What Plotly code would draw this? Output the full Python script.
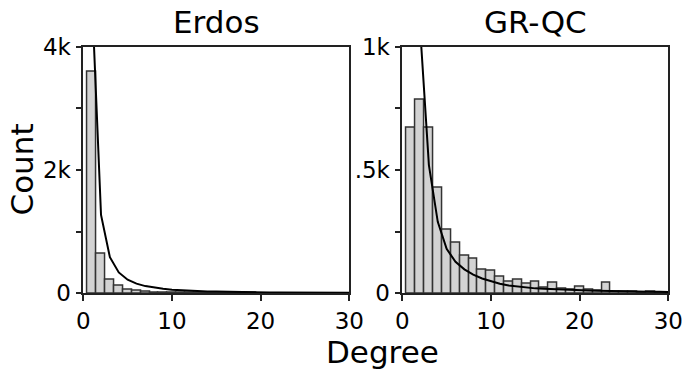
import plotly.graph_objects as go

# ---- data ----
degrees = list(range(1, 31))
erdos_counts = [3590, 635, 227, 122, 65, 38, 25, 16, 12, 9, 7, 6, 5, 4, 3,
                3, 2, 2, 2, 1, 1, 1, 1, 1, 1, 0, 0, 0, 0, 0]
erdos_fit = [4720, 1270, 585, 339, 221, 157, 117, 91, 73, 59, 50, 42, 36, 31, 28,
             24, 22, 20, 18, 16, 14.5, 13, 12, 11, 10, 9.5, 8.8, 8.2, 7.8, 7.4]
grqc_counts = [673, 786, 673, 428, 257, 204, 151, 139, 97, 92, 66, 47, 56, 37, 47,
               24, 42, 18, 14, 27, 14, 11, 42, 7, 5, 5, 4, 8, 3, 3]
grqc_fit = [4300, 1080, 520, 290, 180, 128, 97, 76, 60, 48, 39, 32, 27, 23, 20,
            18, 16, 14.5, 13, 12, 11, 10, 9, 8.5, 8, 7.4, 7, 6.5, 6, 5.7]

titles = ["Erdos", "GR-QC"]
x_ticks = [0, 10, 20, 30]
erdos_yticks = [0, 1000, 2000, 3000, 4000]
erdos_ytext = ["0", "", "2k", "", "4k"]
grqc_yticks = [0, 250, 500, 750, 1000]
grqc_ytext = ["0", "", ".5k", "", "1k"]

W, H = 682, 376
FONT = "DejaVu Sans"
BAR_FILL = "#d3d3d3"
BAR_EDGE = "#333333"

fig = go.Figure()

for i, (cnt, fit) in enumerate([(erdos_counts, erdos_fit), (grqc_counts, grqc_fit)]):
    xa = "x" if i == 0 else "x2"
    ya = "y" if i == 0 else "y2"
    fig.add_trace(go.Bar(x=degrees, y=cnt, width=1.0, xaxis=xa, yaxis=ya,
                         marker=dict(color=BAR_FILL, line=dict(color=BAR_EDGE, width=1.5)),
                         showlegend=False))
    fig.add_trace(go.Scatter(x=degrees, y=fit, mode="lines", xaxis=xa, yaxis=ya,
                             line=dict(color="black", width=2), showlegend=False,
                             cliponaxis=True))

ydom = [1 - 293.3 / H, 1 - 46.7 / H]
xd1 = [83.3 / W, 349.3 / W]
xd2 = [402.3 / W, 668.3 / W]

axcommon = dict(showline=True, linecolor="#222", linewidth=1.5, mirror=True,
                ticks="outside", ticklen=6, tickwidth=1.5, tickcolor="#222",
                showgrid=False, zeroline=False, automargin=False,
                ticklabeloverflow="allow",
                tickfont=dict(family=FONT, size=23, color="black"))

fig.update_layout(
    template="none",
    width=W, height=H, margin=dict(l=0, r=0, t=0, b=0, pad=0),
    paper_bgcolor="white", plot_bgcolor="white", bargap=0,
    xaxis=dict(domain=xd1, range=[0, 30], tickvals=x_ticks, anchor="y", **axcommon),
    yaxis=dict(domain=ydom, range=[0, 4000], tickvals=erdos_yticks, ticktext=erdos_ytext,
               anchor="x", **axcommon),
    xaxis2=dict(domain=xd2, range=[0, 30], tickvals=x_ticks, anchor="y2", **axcommon),
    yaxis2=dict(domain=ydom, range=[0, 1000], tickvals=grqc_yticks, ticktext=grqc_ytext,
                anchor="x2", **axcommon),
)

ann = []
for t, xd in zip(titles, [xd1, xd2]):
    ann.append(dict(text=t, x=(xd[0] + xd[1]) / 2, y=1 - 22 / H, xref="paper", yref="paper",
                    xanchor="center", yanchor="middle", showarrow=False,
                    font=dict(family=FONT, size=31, color="black")))
ann.append(dict(text="Count", x=21.5 / W, y=1 - 170 / H, xref="paper", yref="paper",
                xanchor="center", yanchor="middle", textangle=-90, showarrow=False,
                font=dict(family=FONT, size=31, color="black")))
ann.append(dict(text="Degree", x=383 / W, y=1 - 352 / H, xref="paper", yref="paper",
                xanchor="center", yanchor="middle", showarrow=False,
                font=dict(family=FONT, size=31, color="black")))
fig.update_layout(annotations=ann)

fig.write_html("out.html")
